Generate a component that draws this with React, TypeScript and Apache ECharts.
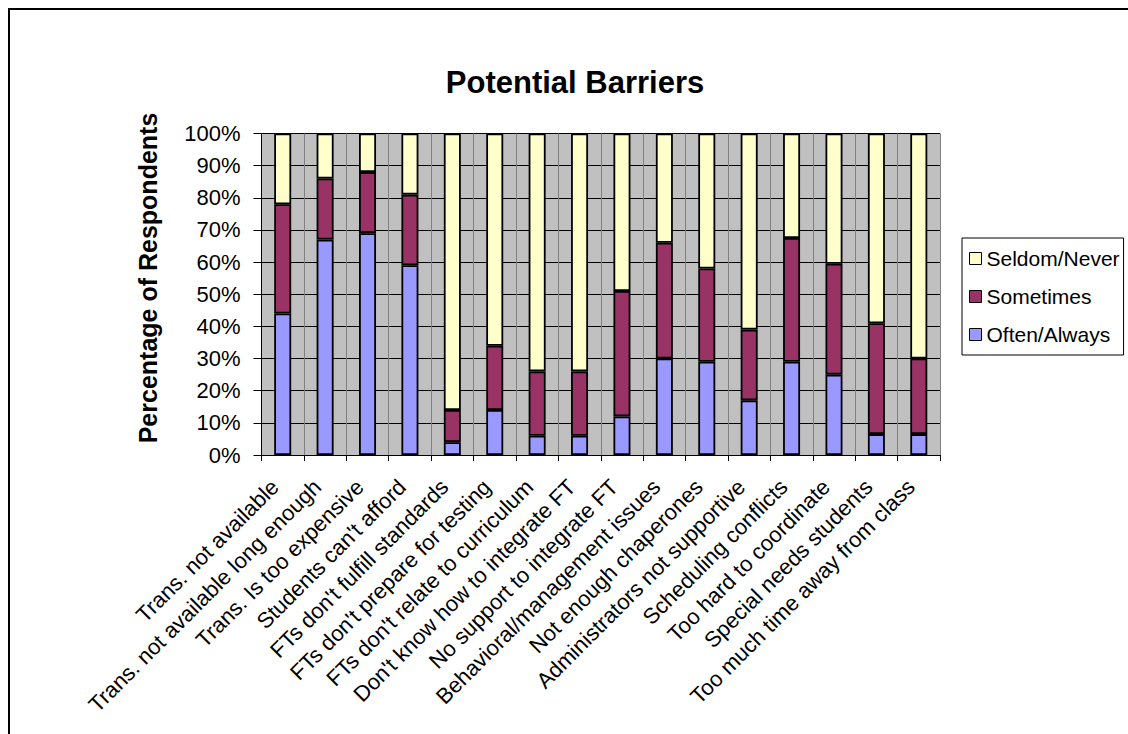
import React, { useEffect, useRef } from "react";
import * as echarts from "echarts";

const categories = [
  "Trans. not available",
  "Trans. not available long enough",
  "Trans. Is too expensive",
  "Students can't afford",
  "FTs don't fulfill standards",
  "FTs don't prepare for testing",
  "FTs don't relate to curriculum",
  "Don't know how to integrate FT",
  "No support to integrate FT",
  "Behavioral/management issues",
  "Not enough chaperones",
  "Administrators not supportive",
  "Scheduling conflicts",
  "Too hard to coordinate",
  "Special needs students",
  "Too much time away from class",
];

const oftenAlways = [44, 67, 69, 59, 4, 14, 6, 6, 12, 30, 29, 17, 29, 25, 6.5, 6.5];
const sometimes = [34, 19, 19, 22, 10, 20, 20, 20, 39, 36, 29, 22, 38.5, 34.5, 34.5, 23.5];
const seldomNever = [22, 14, 12, 19, 86, 66, 74, 74, 49, 34, 42, 61, 32.5, 40.5, 59, 70];

const seriesNames = ["Often/Always", "Sometimes", "Seldom/Never"];
const seriesColors = ["#9999FF", "#993366", "#FFFFCC"];
const legendOrder = ["Seldom/Never", "Sometimes", "Often/Always"];

const FONT = "'Liberation Sans', Arial, Helvetica, sans-serif";

export default function App() {
  const ref = useRef<HTMLDivElement>(null);

  useEffect(() => {
    document.body.style.margin = "0";
    document.body.style.overflow = "hidden";
    const chart = echarts.init(ref.current!, undefined, { renderer: "svg" });
    const values = [oftenAlways, sometimes, seldomNever];
    chart.setOption({
      animation: false,
      textStyle: { fontFamily: FONT },
      graphic: [
        {
          type: "line",
          shape: { x1: 9, y1: 8, x2: 9, y2: 800 },
          style: { stroke: "#000", lineWidth: 2 },
          silent: true,
        },
        {
          type: "line",
          shape: { x1: 8, y1: 9, x2: 1200, y2: 9 },
          style: { stroke: "#000", lineWidth: 2 },
          silent: true,
        },
        {
          type: "text",
          x: 575,
          y: 82,
          style: {
            text: "Potential Barriers",
            font: `bold 31px ${FONT}`,
            fill: "#000",
            textAlign: "center",
            textVerticalAlign: "middle",
          },
        },
        {
          type: "text",
          x: 148,
          y: 278,
          rotation: Math.PI / 2,
          style: {
            text: "Percentage of Respondents",
            font: `bold 25px ${FONT}`,
            fill: "#000",
            textAlign: "center",
            textVerticalAlign: "middle",
          },
        },
      ],
      legend: {
        orient: "vertical",
        left: 962,
        top: 238,
        data: legendOrder,
        icon: "rect",
        itemWidth: 12,
        itemHeight: 12,
        itemGap: 17,
        padding: [10, 4, 10, 7],
        borderColor: "#000",
        borderWidth: 1,
        backgroundColor: "#fff",
        textStyle: { fontSize: 21, color: "#000", fontFamily: FONT, lineHeight: 20 },
        itemStyle: { borderColor: "#000", borderWidth: 1 },
      },
      grid: {
        left: 261.5,
        top: 133.5,
        right: 188,
        bottom: 279,
        show: true,
        backgroundColor: "#C0C0C0",
        borderWidth: 0,
      },
      xAxis: {
        type: "category",
        data: categories,
        boundaryGap: true,
        axisLine: { show: true, lineStyle: { color: "#000", width: 1 } },
        axisTick: { show: true, length: 6, interval: 0, lineStyle: { color: "#000" } },
        splitLine: { show: true, interval: 0, lineStyle: { color: "#808080", width: 1 } },
        axisLabel: {
          interval: 0,
          rotate: 45,
          fontSize: 22,
          color: "#000",
          margin: 36,
          verticalAlign: "bottom",
          fontFamily: FONT,
        },
      },
      yAxis: {
        type: "value",
        min: 0,
        max: 100,
        interval: 10,
        axisLine: { show: true, lineStyle: { color: "#000", width: 1 } },
        axisTick: { show: true, length: 8, lineStyle: { color: "#000" } },
        splitLine: { show: true, lineStyle: { color: "#000", width: 1 } },
        axisLabel: {
          formatter: "{value}%",
          fontSize: 22,
          color: "#000",
          margin: 21,
          fontFamily: FONT,
        },
      },
      series: seriesNames.map((name, i) => ({
        name,
        type: "bar",
        stack: "total",
        barWidth: 17,
        data: values[i],
        itemStyle: { color: seriesColors[i], borderColor: "#000", borderWidth: 1.8 },
      })),
    });
    return () => chart.dispose();
  }, []);

  return <div ref={ref} style={{ width: 1128, height: 734 }} />;
}
